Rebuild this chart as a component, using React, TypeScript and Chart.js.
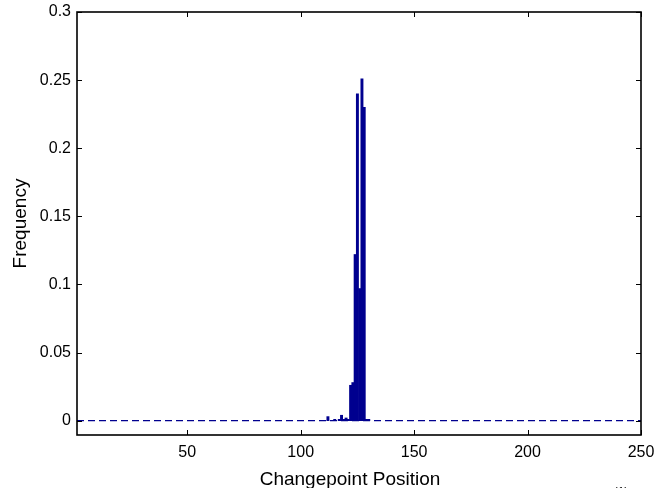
import React, { useEffect, useRef } from "react";
import { Chart, registerables } from "chart.js";

Chart.register(...registerables);

// Data
const positions = [112, 115, 117, 118, 119, 120, 121, 122, 123, 124, 125, 126, 127, 128, 129, 130];
const frequencies = [0.003, 0.001, 0.001, 0.004, 0.001, 0.002, 0.001, 0.026, 0.028, 0.122, 0.24, 0.097, 0.251, 0.23, 0.001, 0.001];
const xTicks = [50, 100, 150, 200, 250];
const yTicks = [0, 0.05, 0.1, 0.15, 0.2, 0.25, 0.3];
const xRange = [1.4, 250];
const yRange = [-0.0105, 0.3];
const xTitle = "Changepoint Position";
const yTitle = "Frequency";
const cornerNote = "(1)";

const NAVY = "#00008F";
const FONT = "'Liberation Sans', Arial, sans-serif";

const boxPlugin = {
  id: "matlabBox",
  afterDatasetsDraw(chart: any) {
    const { ctx, chartArea } = chart;
    const { left, right, top, bottom } = chartArea;
    const xs = chart.scales.x;
    const ys = chart.scales.y;
    const tl = 5;
    ctx.save();
    ctx.strokeStyle = "#000";
    ctx.lineWidth = 1;
    ctx.beginPath();
    xs.ticks.forEach((t: any) => {
      const px = Math.round(xs.getPixelForValue(t.value)) + 0.5;
      ctx.moveTo(px, bottom);
      ctx.lineTo(px, bottom - tl);
      ctx.moveTo(px, top);
      ctx.lineTo(px, top + tl);
    });
    ys.ticks.forEach((t: any) => {
      const py = Math.round(ys.getPixelForValue(t.value)) + 0.5;
      ctx.moveTo(left, py);
      ctx.lineTo(left + tl, py);
      ctx.moveTo(right, py);
      ctx.lineTo(right - tl, py);
    });
    ctx.stroke();
    ctx.lineWidth = 1.6;
    ctx.strokeRect(left, top, right - left, bottom - top);
    ctx.fillStyle = "#000";
    ctx.textAlign = "center";
    ctx.textBaseline = "alphabetic";
    ctx.font = `19px ${FONT}`;
    ctx.fillText(xTitle, 350, 485);
    ctx.font = `12px ${FONT}`;
    ctx.fillText(cornerNote, 621, 496);
    ctx.restore();
  },
};

export default function App() {
  const ref = useRef<HTMLCanvasElement | null>(null);
  useEffect(() => {
    if (!ref.current) return;
    const chart = new Chart(ref.current, {
      type: "bar",
      data: {
        datasets: [
          {
            type: "bar",
            data: positions.map((p, i) => ({ x: p, y: frequencies[i] })),
            backgroundColor: NAVY,
            borderWidth: 0,
            barPercentage: 1,
            categoryPercentage: 1,
            order: 1,
          } as any,
          {
            type: "line",
            data: [
              { x: xRange[0], y: 0 },
              { x: xRange[1], y: 0 },
            ],
            borderColor: NAVY,
            borderWidth: 1.2,
            borderDash: [7, 4],
            pointRadius: 0,
            fill: false,
            order: 0,
          } as any,
        ],
      },
      options: {
        animation: false,
        responsive: false,
        devicePixelRatio: 1,
        layout: { padding: { top: 12, right: 31, left: 0, bottom: 0 } },
        plugins: { legend: { display: false }, tooltip: { enabled: false } },
        scales: {
          x: {
            type: "linear",
            min: xRange[0],
            max: xRange[1],
            offset: false,
            grid: { display: false, drawTicks: false, offset: false },
            border: { display: false },
            afterBuildTicks: (s: any) => {
              s.ticks = xTicks.map((v) => ({ value: v }));
            },
            afterFit: (s: any) => {
              s.height = 53;
              s.paddingLeft = 0;
              s.paddingRight = 0;
            },
            ticks: {
              color: "#000",
              padding: 8,
              maxRotation: 0,
              autoSkip: false,
              font: { family: FONT, size: 16 },
              callback: (v: any) => String(v),
            },
            title: { display: false, text: xTitle },
          },
          y: {
            type: "linear",
            min: yRange[0],
            max: yRange[1],
            grid: { display: false, drawTicks: false },
            border: { display: false },
            afterBuildTicks: (s: any) => {
              s.ticks = yTicks.map((v) => ({ value: v }));
            },
            afterFit: (s: any) => {
              s.width = 77;
              s.paddingTop = 0;
              s.paddingBottom = 0;
            },
            ticks: {
              color: "#000",
              padding: 6,
              autoSkip: false,
              font: { family: FONT, size: 16 },
              callback: (v: any) => String(Number(Number(v).toFixed(3))),
            },
            title: {
              display: true,
              text: yTitle,
              color: "#000",
              font: { family: FONT, size: 19 },
              padding: { top: 9, bottom: 0 },
            },
          },
        },
      },
      plugins: [boxPlugin],
    });
    return () => chart.destroy();
  }, []);
  return (
    <div style={{ position: "absolute", left: 0, top: 0, width: 672, height: 488, background: "#fff" }}>
      <canvas ref={ref} width={672} height={488} style={{ display: "block" }} />
    </div>
  );
}
